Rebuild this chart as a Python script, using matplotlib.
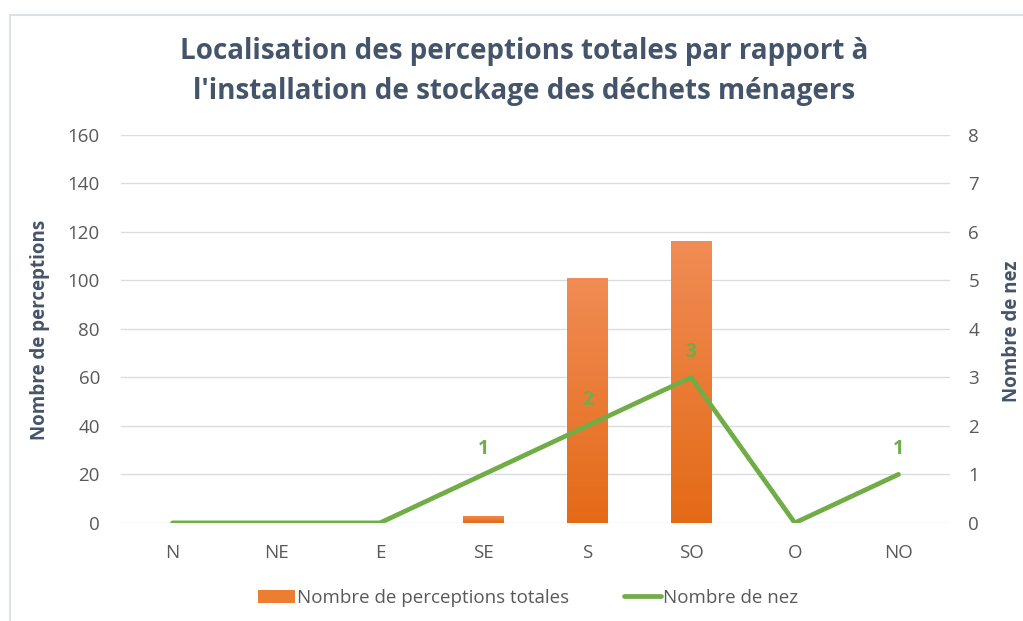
import numpy as np
import matplotlib
matplotlib.use('Agg')
import matplotlib.pyplot as plt
from matplotlib.patches import Rectangle
from matplotlib.colors import LinearSegmentedColormap

directions = ['N', 'NE', 'E', 'SE', 'S', 'SO', 'O', 'NO']
perceptions = [0, 0, 0, 3, 101, 116, 0, 0]
nez = [0, 0, 0, 1, 2, 3, 0, 1]

plt.rcParams['font.family'] = ['Open Sans', 'DejaVu Sans']

fig = plt.figure(figsize=(10.23, 6.21), dpi=100)
ax = fig.add_axes([0.118, 0.158, 0.811, 0.625])
ax2 = ax.twinx()

x = np.arange(len(directions))
bars = ax.bar(x, perceptions, width=0.39, color='#ED7D31', label='Nombre de perceptions totales', zorder=2)

# vertical gradient on each bar
grad_cmap = LinearSegmentedColormap.from_list('og', ['#E46A16', '#F08C55'])
grad = np.linspace(0, 1, 256).reshape(-1, 1)
for b in bars:
    if b.get_height() <= 0:
        continue
    im = ax.imshow(grad, cmap=grad_cmap, origin='lower', aspect='auto', zorder=2.1,
                   extent=[b.get_x(), b.get_x() + b.get_width(), 0, b.get_height()])
    im.set_clip_path(b)

line, = ax2.plot(x, nez, color='#70AD47', lw=3.4, label='Nombre de nez', solid_capstyle='round', zorder=3)
for xi, v in zip(x, nez):
    if v > 0:
        ax2.annotate(str(v), (xi, v), xytext=(0, 18.5), textcoords='offset points',
                     ha='center', va='center', color='#70AD47', fontsize=14, fontweight='bold')

ax.set_xlim(-0.5, len(directions) - 0.5)
ax.set_ylim(0, 160)
ax.set_yticks(np.arange(0, 161, 20))
ax2.set_ylim(0, 8)
ax2.set_yticks(np.arange(0, 9, 1))
ax.set_xticks(x)
ax.set_xticklabels(directions)

ax.grid(axis='y', color='#D9DDE3', lw=1, zorder=0)
ax.set_axisbelow(True)
for a in (ax, ax2):
    for s in a.spines.values():
        s.set_visible(False)
    a.tick_params(length=0, labelsize=13.5, labelcolor='#595959')
ax.tick_params(axis='x', pad=15)
ax.tick_params(axis='y', pad=15)
ax2.tick_params(axis='y', pad=13)

fig.text(40 / 1023, 1 - 330 / 621, 'Nombre de perceptions', rotation=90, ha='center', va='center',
         fontsize=13.5, fontweight='bold', color='#44546A')
fig.text(1012 / 1023, 1 - 331 / 621, 'Nombre de nez', rotation=90, ha='center', va='center',
         fontsize=13.5, fontweight='bold', color='#44546A')

fig.text(0.512, 1 - 71 / 621,
         "Localisation des perceptions totales par rapport à\nl'installation de stockage des déchets ménagers",
         ha='center', va='center', fontsize=20, fontweight='bold', color='#44546A', linespacing=1.5)

fig.legend(handles=[bars, line], labels=['Nombre de perceptions totales', 'Nombre de nez'],
           loc='center', bbox_to_anchor=(0.516, 0.037), ncol=2, frameon=False, fontsize=13.5,
           labelcolor='#595959', handlelength=2.0, handletextpad=0.1, columnspacing=2.9)

fig.patches.append(Rectangle((9.5 / 1023, -0.1), 1.2, 1 - 14.5 / 621 + 0.1, transform=fig.transFigure,
                             fill=False, edgecolor='#DCE1E8', lw=1.5))

fig.savefig('out.png', dpi=100, facecolor='white')
